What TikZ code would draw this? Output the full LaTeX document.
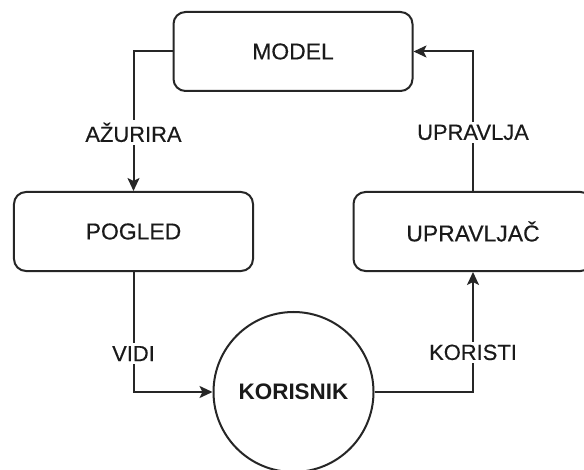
\documentclass[tikz,border=0pt]{standalone}
\usepackage{fontspec}
\setmainfont{Liberation Sans}
\newfontfamily\heavyfont[FakeBold=0.35]{Liberation Sans}
\usetikzlibrary{arrows.meta}
\definecolor{txt}{HTML}{1A1A1A}
\begin{document}
\begin{tikzpicture}[x=1bp,y=-1bp,line width=2bp,
  box/.style={draw=black!85,rectangle,rounded corners=12bp,minimum width=239bp,minimum height=79bp,inner sep=0pt,
    text=txt,font=\heavyfont\fontsize{23}{27}\selectfont},
  circ/.style={draw=black!85,circle,minimum size=160bp,inner sep=0pt,text=txt,font=\bfseries\fontsize{22.5}{27}\selectfont},
  lbl/.style={fill=white,inner sep=3bp,text=txt,font=\heavyfont\fontsize{22}{26}\selectfont},
  arr/.style={draw=black!85,-{Stealth[length=13bp,width=12bp,inset=3bp]}}]
\clip (0,0) rectangle (584,470);
\fill[white] (0,0) rectangle (584,470);
\node[box] (model) at (293,51.5) {MODEL};
\node[box] (pogled) at (133.5,231.5) {POGLED};
\node[box] (upr) at (473,231.5) {UPRAVLJAČ};
\node[circ] (kor) at (293.5,392) {KORISNIK};
\draw[arr] (model.west) -| node[lbl,pos=0.79]{AŽURIRA} (pogled.north);
\draw[arr] (upr.north) |- node[lbl,pos=0.21]{UPRAVLJA} (model.east);
\draw[arr] (pogled.south) |- node[lbl,pos=0.34]{VIDI} (kor.west);
\draw[arr] (kor.east) -| node[lbl,pos=0.665]{KORISTI} (upr.south);
\end{tikzpicture}
\end{document}
